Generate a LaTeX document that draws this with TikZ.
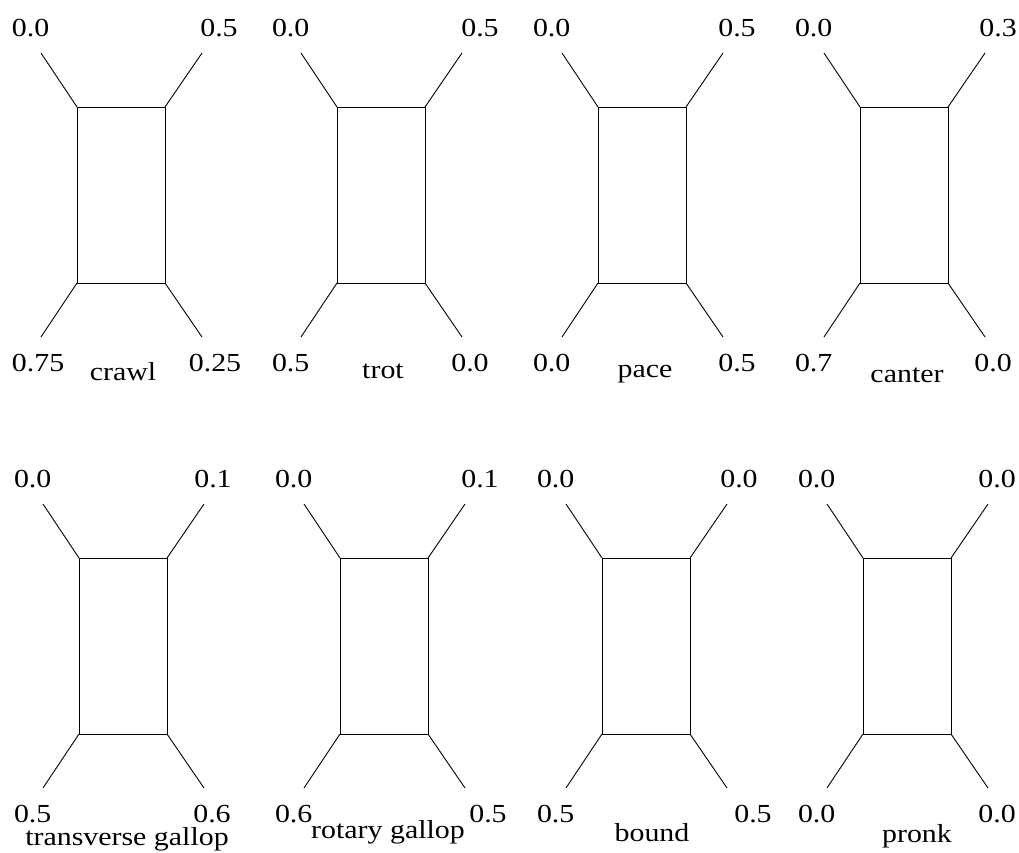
\documentclass[tikz,border=0pt]{standalone}
\usepackage{fontspec}
\setmainfont{Liberation Serif}[FakeStretch=1.15]
\begin{document}
\begin{tikzpicture}[x=1pt,y=-1pt,line width=0.9pt,
    font=\fontsize{26}{30}\selectfont,inner sep=0pt,outer sep=0pt,
    body/.style={draw,minimum width=88pt,minimum height=176pt},
    phase/.style={anchor=center},
    gaitname/.style={anchor=base}]
    \path[use as bounding box] (0,0) rectangle (1019,852);
    \foreach \x/\y/\tl/\tr/\bl/\br/\gait/\dtr/\dbr/\dn/\nb [count=\i] in {
        77/107/0.0/0.5/0.75/0.25/crawl/17/13/2/380,
        337/107/0.0/0.5/0.5/0.0/trot/18/8/2/378,
        598/107/0.0/0.5/0.0/0.5/pace/14/14/3/377,
        860/107/0.0/0.3/0.7/0.0/canter/13/8/3/382,
        79/558/0.0/0.1/0.5/0.6/transverse gallop/9/8/4/845,
        340/558/0.0/0.1/0.6/0.5/rotary gallop/15/23/4/838,
        602/558/0.0/0.0/0.5/0.5/bound/12/26/6/841,
        863/558/0.0/0.0/0.0/0.0/pronk/9/9/10/842} {
      \node[body] (b\i) at (\x+44,\y+88) {};
      \coordinate (ftl\i) at (\x-36,\y-54);
      \coordinate (ftr\i) at (\x+125,\y-54);
      \coordinate (fbl\i) at (\x-36,\y+230);
      \coordinate (fbr\i) at (\x+125,\y+230);
      \draw (b\i.north west) -- (ftl\i);
      \draw (b\i.north east) -- (ftr\i);
      \draw (b\i.south west) -- (fbl\i);
      \draw (b\i.south east) -- (fbr\i);
      \node[phase,anchor=west] (ptl\i) at ([xshift=-29pt,yshift=25pt]ftl\i) {\tl};
      \node[phase] (ptr\i) at ([xshift=\dtr pt,yshift=25pt]ftr\i) {\tr};
      \node[phase,anchor=west] (pbl\i) at ([xshift=-29pt,yshift=-26pt]fbl\i) {\bl};
      \node[phase] (pbr\i) at ([xshift=\dbr pt,yshift=-26pt]fbr\i) {\br};
      \node[gaitname] (g\i) at (\x+44+\dn,\nb) {\gait};
    }
  \end{tikzpicture}
\end{document}
